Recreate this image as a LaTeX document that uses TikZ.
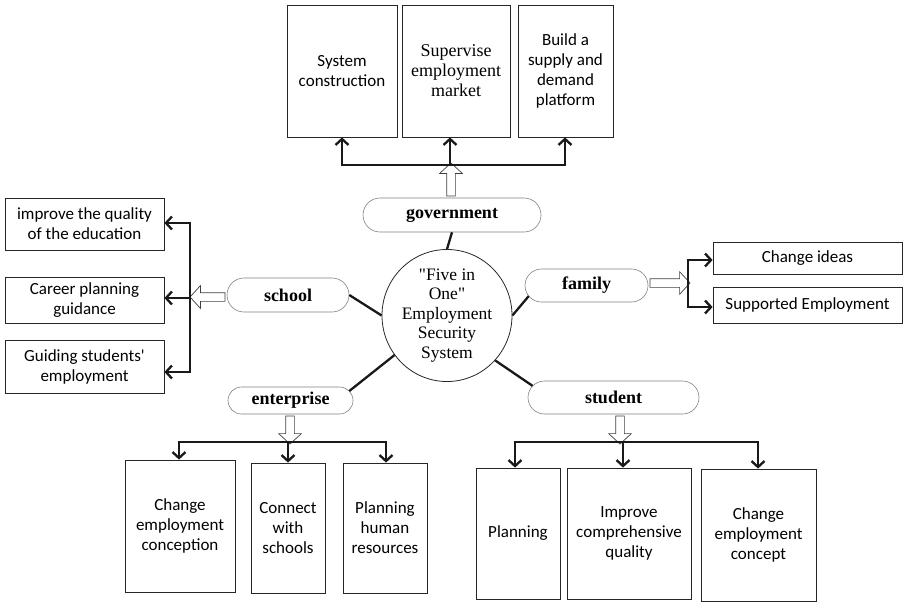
\documentclass[tikz,border=0pt]{standalone}
\usepackage{fontspec}
\setmainfont{Carlito}
\newfontfamily\serifx{Liberation Serif}
\usetikzlibrary{arrows.meta,calc,shapes.geometric,shapes.arrows}
\newcommand{\straightquote}{\XeTeXglyph\the\XeTeXcharglyph"0027\relax}
\begin{document}
\begin{tikzpicture}[x=1pt,y=-1pt,
  box/.style={draw=black!85, line width=0.8pt, rectangle, align=center, inner sep=2pt,
    font=\fontsize{17}{20}\selectfont},
  cat/.style={draw=black!50, line width=0.6pt, rectangle, align=center, inner sep=0pt,
    font=\serifx\bfseries\fontsize{18}{20}\selectfont},
  conn/.style={line width=2.3pt, draw=black!90, line join=miter},
  barb/.tip={Straight Barb[length=6pt,width=13pt]},
  arr/.style={conn, -barb},
  hol/.style={single arrow, draw=black!75, fill=white, line width=0.7pt, inner sep=4pt,
    single arrow head extend=7pt, single arrow tip angle=95}
]
\useasboundingbox (0,0) rectangle (904,603);

% centre
\node[ellipse, draw=black!85, line width=0.8pt, minimum width=130pt, minimum height=115pt,
  inner sep=0pt, align=center, font=\serifx\fontsize{17.5}{19.5}\selectfont]
  (sys) at (447,315.5) {"Five in\\One"\\Employment\\Security\\System};

% category nodes
\node[cat, minimum width=178pt, minimum height=34pt, rounded corners=17pt] (gov) at (452,215) {government};
\node[cat, minimum width=122pt, minimum height=34pt, rounded corners=17pt] (sch) at (288,295) {school};
\node[cat, minimum width=123pt, minimum height=33pt, rounded corners=16.5pt] (fam) at (586.5,285.5) {family};
\node[cat, minimum width=125pt, minimum height=27pt, rounded corners=13.5pt] (ent) at (290.5,400.5) {enterprise};
\node[cat, minimum width=171pt, minimum height=33pt, rounded corners=16.5pt] (stu) at (613.5,397.5) {student};

% government boxes
\node[box, minimum width=110pt, minimum height=132pt] (t1) at (342,71) {System\\construction};
\node[box, minimum width=108pt, minimum height=132pt, font=\serifx\fontsize{18}{20}\selectfont] (t2) at (456,71) {Supervise\\employment\\market};
\node[box, minimum width=95pt, minimum height=132pt] (t3) at (565.5,71) {Build a\\supply and\\demand\\platform};

% school boxes
\node[box, minimum width=159pt, minimum height=52pt] (l1) at (84.5,224) {improve the quality\\of the education};
\node[box, minimum width=159pt, minimum height=46pt] (l2) at (84.5,300) {Career planning\\guidance};
\node[box, minimum width=159pt, minimum height=53pt] (l3) at (84.5,366.5) {Guiding students\straightquote\\employment};

% family boxes
\node[box, minimum width=189pt, minimum height=32pt] (r1) at (807.5,258) {Change ideas};
\node[box, minimum width=189pt, minimum height=36pt] (r2) at (807.5,305) {Supported Employment};

% enterprise boxes
\node[box, minimum width=110pt, minimum height=132pt] (e1) at (180,526) {Change\\employment\\conception};
\node[box, minimum width=74pt, minimum height=130pt] (e2) at (288,528) {Connect\\with\\schools};
\node[box, minimum width=84pt, minimum height=130pt] (e3) at (385,528) {Planning\\human\\resources};

% student boxes
\node[box, minimum width=84pt, minimum height=131pt] (s1) at (518,533.5) {Planning};
\node[box, minimum width=124pt, minimum height=131pt] (s2) at (629,533.5) {Improve\\comprehensive\\quality};
\node[box, minimum width=115pt, minimum height=132pt] (s3) at (758.5,535) {Change\\employment\\concept};

% junction coordinates
\coordinate (g1) at (342,165); \coordinate (g2) at (450,165); \coordinate (g3) at (565,165);
\coordinate (c1) at (190,223); \coordinate (c2) at (190,298); \coordinate (c3) at (190,372);
\coordinate (f1) at (688,260); \coordinate (f2) at (688,307);
\coordinate (n1) at (179,442); \coordinate (n2) at (288,442); \coordinate (n3) at (386,442);
\coordinate (m1) at (515,442); \coordinate (m2) at (623,442); \coordinate (m3) at (758,442);

% hollow arrows
\node[hol, minimum height=33pt, rotate=90] (ga) at (451,181.5) {};
\node[hol, minimum height=35pt, rotate=180] (sa) at (209.5,297) {};
\node[hol, minimum height=40pt] (fa) at (668,283) {};
\node[hol, minimum height=28pt, rotate=-90] (ea) at (290,428) {};
\node[hol, minimum height=28pt, rotate=-90] (sta) at (620,428) {};

% links to centre
\draw[conn] (gov.south) -- (sys.north);
\draw[conn] (sch.east) -- (sys.west);
\draw[conn] ($(fam.west)+(4,10.6)$) -- (sys.east);
\draw[conn] ($(ent.east)+(-4,-9.5)$) -- (sys.217);
\draw[conn] ($(stu.west)+(4.8,-11.7)$) -- (sys.-43);

% government branches
\draw[conn, barb-barb] (g1 |- t1.south) -- (g1) -- (g3) -- (g3 |- t3.south);
\draw[arr] (g2) -- (g2 |- t2.south);

% school branches
\draw[conn, barb-barb] (c1 -| l1.east) -- (c1) -- (c3) -- (c3 -| l3.east);
\draw[arr] (c2) -- (c2 -| l2.east);

% family branches
\draw[conn, barb-barb] (f1 -| r1.west) -- (f1) -- (f2) -- (f2 -| r2.west);

% enterprise branches
\draw[conn, barb-barb] (n1 |- e1.north) -- (n1) -- (n3) -- (n3 |- e3.north);
\draw[arr] (n2) -- (n2 |- e2.north);

% student branches
\draw[conn, barb-barb] (m1 |- s1.north) -- (m1) -- (m3) -- (m3 |- s3.north);
\draw[arr] (m2) -- (m2 |- s2.north);
\end{tikzpicture}
\end{document}
